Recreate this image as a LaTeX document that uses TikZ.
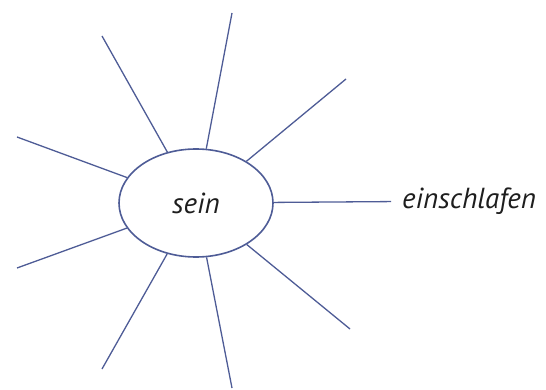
\documentclass[tikz,border=0pt]{standalone}
\usepackage{fontspec}
\setmainfont{PT Sans}
\usetikzlibrary{shapes.geometric}
\definecolor{raysblue}{RGB}{78,92,150}
\definecolor{inkgray}{RGB}{30,30,30}

\begin{document}
\begin{tikzpicture}[
    x=1pt,y=-1pt,
    hub/.style={ellipse,draw=raysblue,line width=1.6pt,minimum width=154pt,
      minimum height=108pt,inner sep=0pt,font=\fontsize{29}{32}\selectfont\itshape,text=inkgray},
    word/.style={inner sep=0pt,font=\fontsize{29}{32}\selectfont\itshape,text=inkgray},
    ray/.style={draw=raysblue,line width=1.3pt}
  ]
    \useasboundingbox (0,0) rectangle (546,390);
    \node[hub] (sein) at (196,203) {sein};
    \node[word,anchor=west] (einschlafen) at (402,201) {einschlafen};

    % free ends of the rays
    \coordinate (ray1) at (102,36);
    \coordinate (ray2) at (232,13);
    \coordinate (ray3) at (346,79);
    \coordinate (ray5) at (350,329);
    \coordinate (ray6) at (232,388);
    \coordinate (ray7) at (102,369);
    \coordinate (ray8) at (17,268);
    \coordinate (ray9) at (17,137);

    \foreach \i in {1,2,3,5,6,7,8,9}
      \draw[ray] (sein) -- (ray\i);
    \draw[ray,shorten >=11pt] (sein) -- (einschlafen);
  \end{tikzpicture}
\end{document}
